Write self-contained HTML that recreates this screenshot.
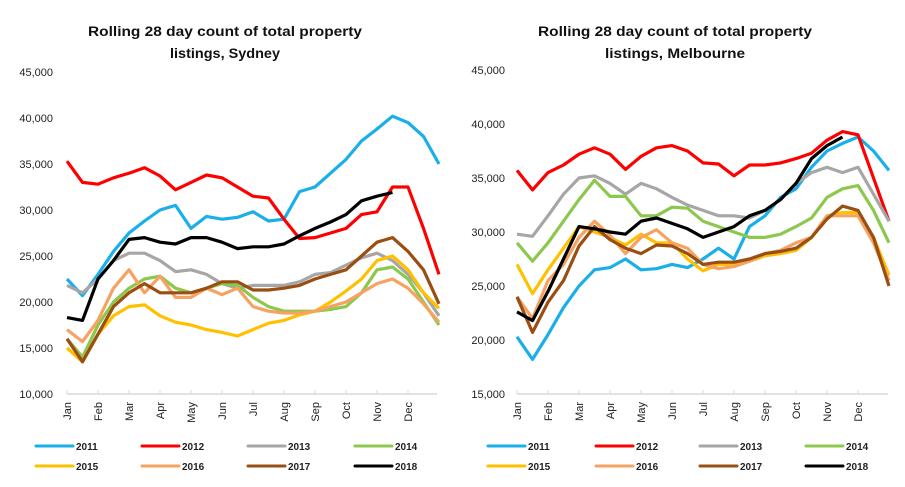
<!DOCTYPE html>
<html><head><meta charset="utf-8"><style>
html,body{margin:0;padding:0;background:#fff;}
svg{display:block;font-family:"Liberation Sans",sans-serif;}
</style></head><body>
<svg id="c" width="905" height="487" viewBox="0 0 905 487" xmlns="http://www.w3.org/2000/svg"></svg>
<script>
const years = ["2011","2012","2013","2014","2015","2016","2017","2018"];
const colors = ["#1AAFE8","#FF0000","#A6A6A6","#8CC84E","#FFC000","#F5A262","#9A4E12","#000000"];
const months = ["Jan","Feb","Mar","Apr","May","Jun","Jul","Aug","Sep","Oct","Nov","Dec"];
const sydTicks = [10000,15000,20000,25000,30000,35000,40000,45000];
const melTicks = [15000,20000,25000,30000,35000,40000,45000];
// values in thousands at half-month steps
const syd2011 = [22.5,20.7,23,25.5,27.5,28.8,30,30.5,28,29.3,29,29.2,29.8,28.8,29,32,32.5,34,35.5,37.5,38.8,40.2,39.5,38,35];
const syd2012 = [35.3,33,32.8,33.5,34,34.6,33.7,32.2,33,33.8,33.5,32.5,31.5,31.3,29,26.9,27,27.5,28,29.5,29.8,32.5,32.5,28,23];
const syd2013 = [21.8,21,22.5,24.5,25.3,25.3,24.5,23.3,23.5,23,22,21.5,21.8,21.8,21.8,22.2,23,23.2,24,24.8,25.3,24.5,23,21,18.5];
const syd2014 = [16,14,17.5,20,21.5,22.5,22.8,21.5,21,21.5,22,21.8,20.5,19.5,19,19,19,19.2,19.5,21,23.5,23.8,22.5,20,17.5];
const syd2015 = [15,13.5,16.5,18.5,19.5,19.7,18.5,17.8,17.5,17,16.7,16.3,17,17.7,18,18.6,19,20,21.2,22.5,24.5,25,23.5,21,19.3];
const syd2016 = [17,15.7,18,21.5,23.5,21,22.8,20.5,20.5,21.5,20.8,21.5,19.5,19,18.8,18.8,19,19.5,20,21,22,22.5,21.5,19.8,17.8];
const syd2017 = [16,13.5,16.5,19.5,21,22,21,21,21,21.5,22.2,22.2,21.3,21.3,21.5,21.8,22.5,23,23.5,25,26.5,27,25.5,23.5,19.8];
const syd2018 = [18.3,18,22.5,24.5,26.8,27,26.5,26.3,27,27,26.5,25.8,26,26,26.3,27.2,28,28.7,29.5,31,31.5,31.9];
const mel2011 = [20.3,18.2,20.5,23,25,26.5,26.7,27.5,26.5,26.6,27,26.7,27.5,28.5,27.5,30.5,31.5,33.2,34,36,37.5,38.2,38.8,37.5,35.7];
const mel2012 = [35.7,33.9,35.5,36.2,37.2,37.8,37.2,35.8,37,37.8,38,37.5,36.4,36.3,35.2,36.2,36.2,36.4,36.8,37.3,38.5,39.3,39,35,31];
const mel2013 = [29.8,29.6,31.5,33.5,35,35.2,34.5,33.5,34.5,34,33.2,32.5,32,31.5,31.5,31.3,32,33,34.5,35.5,36,35.5,36,33.5,31];
const mel2014 = [29,27.3,29,31,33,34.8,33.3,33.3,31.5,31.5,32.3,32.2,31,30.5,30,29.5,29.5,29.8,30.5,31.3,33.2,34,34.3,32,29];
const mel2015 = [27,24.3,26.5,28.5,30.5,30,29.5,28.8,29.8,29,29,27.5,26.4,27,27,27.3,27.8,28,28.3,29.5,31.5,31.8,31.8,29.5,26];
const mel2016 = [24,22,25.5,27,29.5,31,29.7,28,29.5,30.2,29,28.5,27,26.6,26.8,27.3,28,28.3,29,29.5,31.5,31.5,31.5,29,25.5];
const mel2017 = [24,20.7,23.5,25.5,28.7,30.5,29.3,28.5,28,28.8,28.7,28,27,27.2,27.2,27.5,28,28.2,28.5,29.5,31.2,32.4,32,29.5,25];
const mel2018 = [22.6,21.8,24.5,27.5,30.5,30.3,30,29.8,31,31.3,30.8,30.3,29.5,30,30.5,31.5,32,33,34.5,36.8,38,38.8];

const NS="http://www.w3.org/2000/svg";
const svg=document.getElementById('c');
function mk(tag,attrs,parent){const e=document.createElementNS(NS,tag);for(const k in attrs)e.setAttribute(k,attrs[k]);(parent||svg).appendChild(e);return e;}
function fmt(v){return v.toLocaleString('en-US');}

function chart(cfg){
  const g=mk('g',{});
  
  
  const x0=cfg.x0,x1=cfg.x1,yT=cfg.yTop,yB=cfg.yBot,vmin=cfg.ticks[0],vmax=cfg.ticks[cfg.ticks.length-1];
  const xs=i=>x0+i*cfg.half;
  const ys=v=>yB-(v*1000-vmin)/(vmax-vmin)*(yB-yT);
  cfg.title.forEach((t,k)=>{
    const tt=mk('text',{x:cfg.cx,y:36+k*22,'text-anchor':'middle','font-size':13.5,'font-weight':'bold',fill:'#111',textLength:cfg.tw[k],lengthAdjust:'spacingAndGlyphs'},g);
    tt.textContent=t;
    
    
  });
  cfg.ticks.forEach(v=>{
    const t=mk('text',{x:cfg.labX,y:ys(v/1000)+4,'text-anchor':'end','font-size':11,fill:'#222'},g);
    t.textContent=fmt(v);
    
    
  });
  const ax=mk('line',{x1:x0,y1:yB,x2:x1,y2:yB,stroke:'#d9d9d9','stroke-width':1.5},g);
  
  
  months.forEach((m,i)=>{
    const x=xs(i*2);
    mk('line',{x1:x,y1:yB-4,x2:x,y2:yB,stroke:'#d9d9d9','stroke-width':1},g);
    const t=mk('text',{x:0,y:0,'text-anchor':'end','font-size':11,fill:'#222',transform:`translate(${x+4},${yB+8}) rotate(-90)`},g);
    t.textContent=m;
    
    
  });
  cfg.series.forEach((s,k)=>{
    const d=s.map((v,i)=>(i?'L':'M')+xs(i).toFixed(1)+','+ys(v).toFixed(1)).join('');
    const p=mk('path',{d:d,fill:'none',stroke:colors[k],'stroke-width':3.2,'stroke-linejoin':'round'},g);
    
    
  });
  years.forEach((y,k)=>{
    const col=k%4,row=Math.floor(k/4);
    const lx=cfg.legX[col],ly=446+row*20;
    const l=mk('line',{x1:lx,y1:ly,x2:lx+37,y2:ly,stroke:colors[k],'stroke-width':3,'stroke-linecap':'round'},g);
    
    
    const t=mk('text',{x:lx+40,y:ly+4,'font-size':10,'font-weight':'bold',fill:'#222'},g);
    t.textContent=y;
    
    
  });
}
chart({name:'sydney-chart',x0:67,x1:437,half:15.5,yTop:72,yBot:394,ticks:sydTicks,labX:53,cx:225,tw:[274,110],
  title:['Rolling 28 day count of total property','listings, Sydney'],
  series:[syd2011,syd2012,syd2013,syd2014,syd2015,syd2016,syd2017,syd2018],legX:[36,142,248,355]});
chart({name:'melbourne-chart',x0:517,x1:888,half:15.5,yTop:70,yBot:394,ticks:melTicks,labX:505,cx:675,tw:[274,140],
  title:['Rolling 28 day count of total property','listings, Melbourne'],
  series:[mel2011,mel2012,mel2013,mel2014,mel2015,mel2016,mel2017,mel2018],legX:[488,596,700,806]});
</script>
</body></html>
